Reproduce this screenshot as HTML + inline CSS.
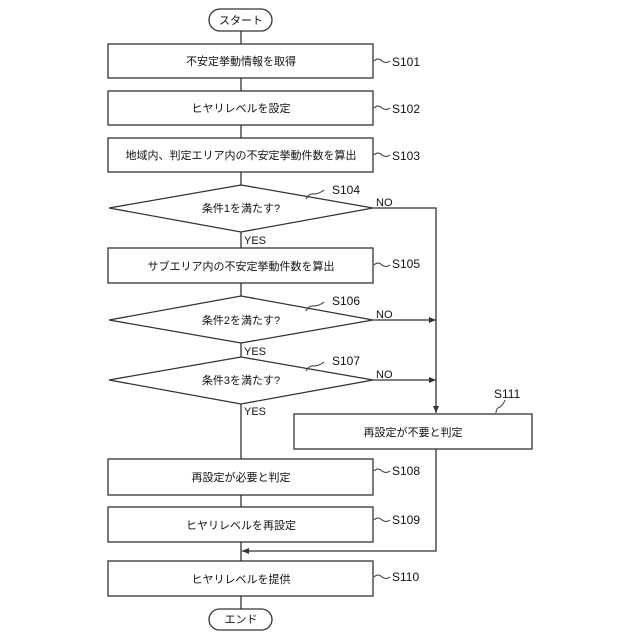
<!DOCTYPE html>
<html><head><meta charset="utf-8"><style>body{margin:0;background:#fff}svg{display:block}</style></head><body>
<svg width="640" height="640" viewBox="0 0 640 640" xmlns="http://www.w3.org/2000/svg" font-family="Liberation Sans, Noto Sans CJK JP, sans-serif" font-size="11">
<defs><marker id="a" markerWidth="8" markerHeight="8" refX="7" refY="3" orient="auto" markerUnits="userSpaceOnUse"><path d="M0,0 L7,3 L0,6z" fill="#333"/></marker></defs>
<g stroke="#333" stroke-width="1.3" fill="none">
<line x1="241" y1="31" x2="241" y2="609"/>
<rect x="209" y="9" width="63" height="22" rx="11" fill="#fff"/>
<rect x="108" y="44" width="265" height="34" fill="#fff"/>
<rect x="108" y="91" width="265" height="34" fill="#fff"/>
<rect x="108" y="138" width="265" height="34" fill="#fff"/>
<polygon points="241,185 373,208 241,232 109,208" fill="#fff"/>
<rect x="108" y="248" width="265" height="35" fill="#fff"/>
<polygon points="241,296 373,320 241,343 109,320" fill="#fff"/>
<polygon points="241,357 373,380 241,404 109,380" fill="#fff"/>
<rect x="294" y="414" width="238" height="35" fill="#fff"/>
<rect x="108" y="459" width="265" height="36" fill="#fff"/>
<rect x="108" y="507" width="265" height="35" fill="#fff"/>
<rect x="108" y="561" width="265" height="35" fill="#fff"/>
<rect x="209" y="609" width="63" height="21" rx="10.5" fill="#fff"/>
<polyline points="373,208 436,208 436,413" marker-end="url(#a)"/>
<line x1="373" y1="320" x2="436" y2="320" marker-end="url(#a)"/>
<line x1="373" y1="380" x2="436" y2="380" marker-end="url(#a)"/>
<polyline points="436,449 436,551 242,551" marker-end="url(#a)"/>
<g stroke-width="1">
<path d="M374,61 q4,-4 8,0 q4,3 8,0"/><path d="M374,108 q4,-4 8,0 q4,3 8,0"/><path d="M374,155 q4,-4 8,0 q4,3 8,0"/>
<path d="M374,265 q4,-4 8,0 q4,3 8,0"/><path d="M374,471 q4,-4 8,0 q4,3 8,0"/><path d="M374,520 q4,-4 8,0 q4,3 8,0"/><path d="M374,577 q4,-4 8,0 q4,3 8,0"/>
<path d="M306,199 q3,-6 8,-5 q5,0 10,-4"/><path d="M306,311 q3,-6 8,-5 q5,0 10,-4"/><path d="M306,371 q3,-6 8,-5 q5,0 10,-4"/>
<path d="M496,413 q0,-5 4,-6 q3,-2 5,-7"/>
</g></g>
<g fill="#111" text-anchor="middle">
<text x="241" y="24">スタート</text>
<text x="241" y="65">不安定挙動情報を取得</text>
<text x="241" y="112">ヒヤリレベルを設定</text>
<text x="241" y="159">地域内、判定エリア内の不安定挙動件数を算出</text>
<text x="241" y="212">条件1を満たす?</text>
<text x="241" y="270">サブエリア内の不安定挙動件数を算出</text>
<text x="241" y="324">条件2を満たす?</text>
<text x="241" y="384">条件3を満たす?</text>
<text x="413" y="436">再設定が不要と判定</text>
<text x="241" y="481">再設定が必要と判定</text>
<text x="241" y="529">ヒヤリレベルを再設定</text>
<text x="241" y="583">ヒヤリレベルを提供</text>
<text x="241" y="623">エンド</text>
</g>
<g fill="#111" font-size="12">
<text x="392" y="66">S101</text><text x="392" y="113">S102</text><text x="392" y="160">S103</text>
<text x="332" y="194">S104</text><text x="392" y="268">S105</text><text x="332" y="305">S106</text><text x="332" y="365">S107</text>
<text x="392" y="475">S108</text><text x="392" y="524">S109</text><text x="392" y="581">S110</text><text x="494" y="398">S111</text>
<text x="376" y="206" font-size="11">NO</text><text x="376" y="318" font-size="11">NO</text><text x="376" y="378" font-size="11">NO</text>
<text x="244" y="244" font-size="11">YES</text><text x="244" y="355" font-size="11">YES</text><text x="244" y="415" font-size="11">YES</text>
</g>
</svg>
</body></html>
